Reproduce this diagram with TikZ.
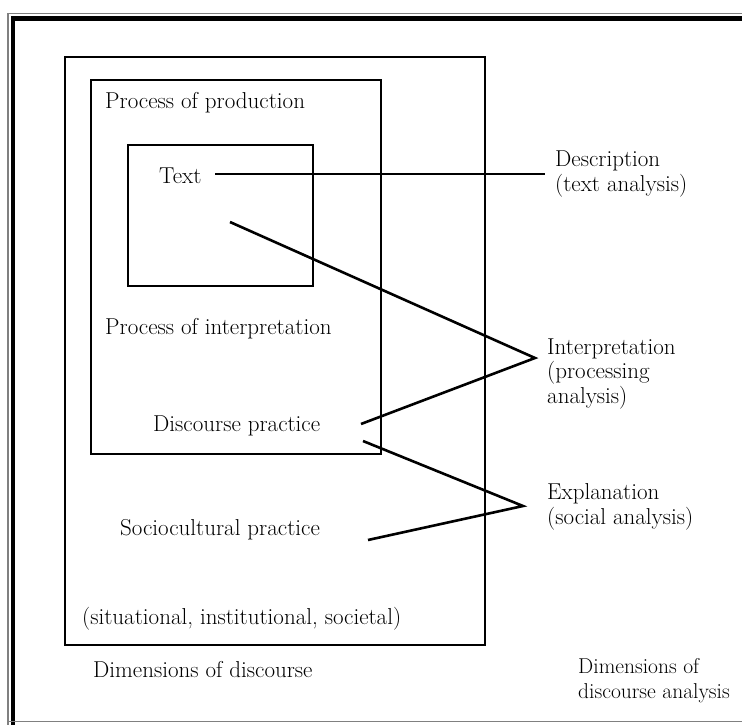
\documentclass[tikz,border=0pt]{standalone}
\usepackage{tikz}
\tikzstyle{every node}=[inner sep=0pt, font=\fontsize{23}{24.5}\selectfont]
\tikzset{lbl/.style={anchor=base west, align=left}}
\tikzset{box/.style={line width=2.4pt}}
\tikzset{link/.style={line width=2.6pt}}

\begin{document}
\begin{tikzpicture}[x=1pt, y=-1pt]
		\useasboundingbox (0,0) rectangle (742,725);
		% frame
		\draw[gray, line width=1.2pt] (8,725) -- (8,13.5) -- (742,13.5);
		\draw[line width=4.5pt] (13,725) -- (13,18.5) -- (742,18.5);
		\draw[gray, line width=1.5pt] (8,721.5) -- (742,721.5);
		% boxes
		\draw[box] (65,57) rectangle (485,645);
		\draw[box] (91,80) rectangle (381,454);
		\draw[box] (128,145) rectangle (313,286);
		% texts (multi-line ones sit on their last baseline)
		\node[lbl] (prod) at (105,109) {Process of production};
		\node[lbl] (txt) at (159,183) {Text};
		\node[lbl] (pint) at (105,334) {Process of interpretation};
		\node[lbl] (dp) at (153,431) {Discourse practice};
		\node[lbl] (sp) at (120,535) {Sociocultural practice};
		\node[lbl] (sit) at (82,624) {(situational, institutional, societal)};
		\node[lbl] (dd) at (93,677) {Dimensions of discourse};
		\node[lbl] (desc) at (555,191) {Description\\(text analysis)};
		\node[lbl] (interp) at (547,403) {Interpretation\\(processing\\analysis)};
		\node[lbl] (expl) at (547,524) {Explanation\\(social analysis)};
		\node[lbl, font=\fontsize{21.5}{24.5}\selectfont] (dda) at (578,698) {Dimensions of\\discourse analysis};
		% connectors
		\coordinate (txtend) at (215,174);
		\coordinate (descend) at (545,174);
		\coordinate (intA) at (230,222);
		\coordinate (intB) at (535,358);
		\coordinate (intC) at (361,424);
		\coordinate (expA) at (363,441);
		\coordinate (expB) at (523,506);
		\coordinate (expC) at (368,540);
		\draw[link] (txtend) -- (descend);
		\draw[link] (intA) -- (intB) -- (intC);
		\draw[link] (expA) -- (expB) -- (expC);
\end{tikzpicture}
\end{document}
